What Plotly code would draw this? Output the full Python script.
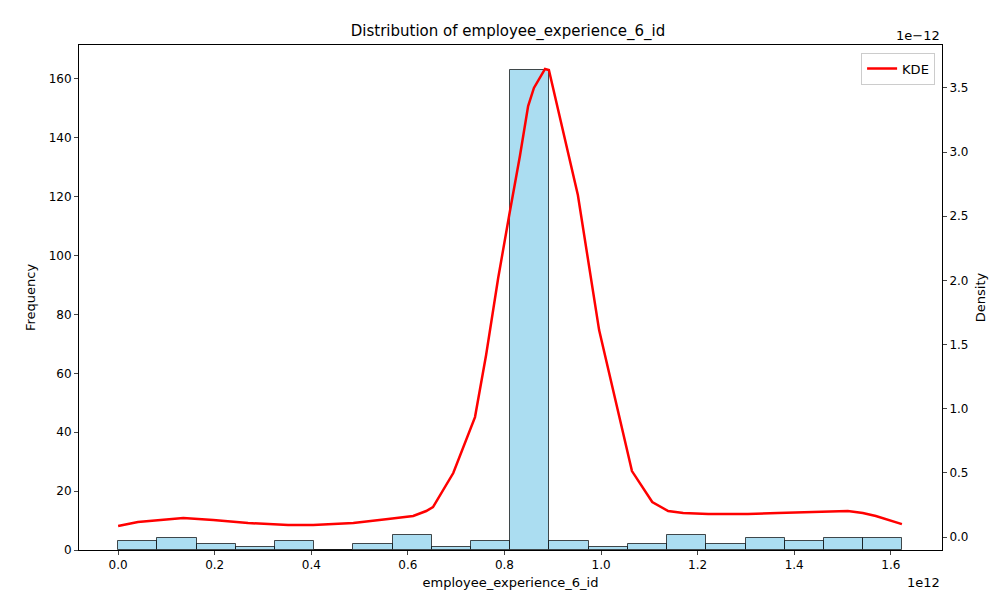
import plotly.graph_objects as go

bin_edges_e12 = [0.0, 0.0812, 0.1624, 0.2436, 0.3248, 0.406, 0.4872, 0.5684, 0.6496, 0.7308, 0.812,
                 0.8932, 0.9744, 1.0556, 1.1368, 1.218, 1.2992, 1.3804, 1.4616, 1.5428, 1.624]
counts = [3, 4, 2, 1, 3, 0, 2, 5, 1, 3, 163, 3, 1, 2, 5, 2, 4, 3, 4, 4]
kde_x_e12 = [0, 0.041, 0.135, 0.197, 0.269, 0.352, 0.404, 0.487, 0.559, 0.611, 0.638, 0.652, 0.694, 0.739,
             0.762, 0.787, 0.811, 0.832, 0.849, 0.861, 0.884, 0.892, 0.952, 0.996, 1.064, 1.106, 1.139,
             1.170, 1.222, 1.304, 1.366, 1.429, 1.484, 1.511, 1.542, 1.569, 1.623]
kde_y_em12 = [0.086, 0.117, 0.148, 0.133, 0.109, 0.094, 0.094, 0.109, 0.140, 0.164, 0.203, 0.234, 0.499,
              0.935, 1.419, 2.019, 2.533, 2.970, 3.359, 3.500, 3.648, 3.640, 2.666, 1.613, 0.514, 0.273,
              0.203, 0.187, 0.179, 0.179, 0.187, 0.195, 0.203, 0.203, 0.187, 0.164, 0.101]
x_ticks = [0.0, 0.2, 0.4, 0.6, 0.8, 1.0, 1.2, 1.4, 1.6]
y2_ticks = [0.0, 0.5, 1.0, 1.5, 2.0, 2.5, 3.0, 3.5]

centers = [(bin_edges_e12[i] + bin_edges_e12[i + 1]) / 2 * 1e12 for i in range(len(counts))]
widths = [(bin_edges_e12[i + 1] - bin_edges_e12[i]) * 1e12 for i in range(len(counts))]

fig = go.Figure()
fig.add_trace(go.Bar(x=centers, y=counts, width=widths, showlegend=False,
                     marker=dict(color="rgba(135,206,235,0.7)", line=dict(color="rgba(0,0,0,0.7)", width=1))))
fig.add_trace(go.Scatter(x=[v * 1e12 for v in kde_x_e12], y=[v * 1e-12 for v in kde_y_em12], yaxis="y2",
                         mode="lines", name="KDE", line=dict(color="red", width=2.5)))

ax = dict(showline=True, linecolor="black", ticks="outside", ticklen=4, showgrid=False, automargin=False,
          zeroline=False, tickfont=dict(size=12, color="black"))
fig.update_layout(
    width=1000, height=600, plot_bgcolor="white", paper_bgcolor="white",
    font=dict(family="DejaVu Sans", size=12, color="black"),
    margin=dict(l=71, r=66, t=37, b=58),
    title=dict(text="Distribution of employee_experience_6_id", x=0.5, xanchor="center", y=0.962,
               yanchor="middle", font=dict(size=15)),
    xaxis=dict(**ax, mirror=True, range=[-0.081e12, 1.706e12], tickvals=[v * 1e12 for v in x_ticks],
               ticktext=[f"{v:.1f}" for v in x_ticks],
               title=dict(text="employee_experience_6_id", standoff=6, font=dict(size=13))),
    yaxis=dict(**ax, mirror=True, range=[0, 171.5], dtick=20,
               title=dict(text="Frequency", standoff=10, font=dict(size=13))),
    yaxis2=dict(**ax, overlaying="y", side="right",
                range=[-0.101e-12, 3.835e-12], tickvals=[v * 1e-12 for v in y2_ticks],
                ticktext=[f"{v:.1f}" for v in y2_ticks], title=dict(text="Density", standoff=8, font=dict(size=13))),
    bargap=0,
    legend=dict(x=0.992, y=0.985, xanchor="right", yanchor="top", bordercolor="#cccccc", borderwidth=1,
                bgcolor="white", font=dict(size=13)),
    annotations=[
        dict(text="1e12", xref="paper", yref="paper", x=1.0, y=-0.065, xanchor="right", yanchor="middle",
             showarrow=False, font=dict(size=13)),
        dict(text="1e\u221212", xref="paper", yref="paper", x=1.0, y=1.0, xanchor="right", yanchor="bottom",
             showarrow=False, font=dict(size=13)),
    ],
)
fig.write_html("out.html")
